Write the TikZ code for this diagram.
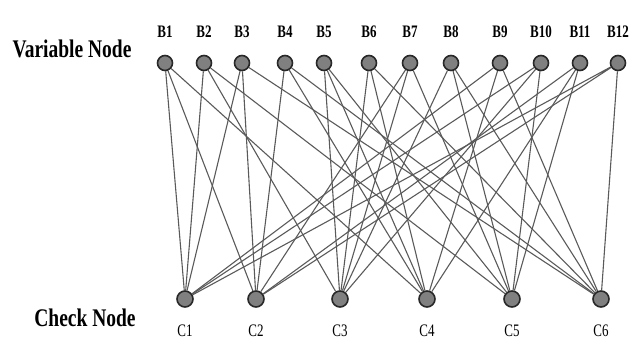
\documentclass[tikz,border=0pt]{standalone}
\usepackage{fontspec}
\setmainfont{Liberation Serif}
\usepackage{xcolor}
\usetikzlibrary{positioning,backgrounds}

\definecolor{nodegray}{RGB}{128,128,128}
\definecolor{rimgray}{RGB}{40,40,40}
\definecolor{edgegray}{RGB}{90,90,90}

\begin{document}
\begin{tikzpicture}[
    x=1pt, y=-1pt,
    vnode/.style={circle, draw=rimgray, fill=nodegray, line width=1.6pt, minimum size=15pt, inner sep=0pt},
    cnode/.style={circle, draw=rimgray, fill=nodegray, line width=1.6pt, minimum size=16pt, inner sep=0pt},
    vlabel/.style={font=\fontsize{13}{13}\selectfont\bfseries, inner sep=0pt},
    clabel/.style={font=\fontsize{13}{13}\selectfont, inner sep=0pt},
    title/.style={font=\fontsize{19.5}{20}\selectfont\bfseries, inner sep=0pt},
    edge/.style={draw=edgegray, line width=1.1pt}
]
\useasboundingbox (0,0) rectangle (638,342);

% Row titles
\node[title] (vtitle) at (72,49) {\scalebox{1}[1.3]{Variable Node}};
\node[title] (ctitle) at (85,318) {\scalebox{1}[1.3]{Check Node}};

% Variable nodes
\node[vnode] (b1) at (165,63) {};
\node[vnode] (b2) at (204,63) {};
\node[vnode] (b3) at (242,63) {};
\node[vnode] (b4) at (285,63) {};
\node[vnode] (b5) at (324,63) {};
\node[vnode] (b6) at (369,63) {};
\node[vnode] (b7) at (410,63) {};
\node[vnode] (b8) at (451,63) {};
\node[vnode] (b9) at (500,63) {};
\node[vnode] (b10) at (541,63) {};
\node[vnode] (b11) at (580,63) {};
\node[vnode] (b12) at (618,63) {};

% Check nodes
\node[cnode] (c1) at (185,299) {};
\node[cnode] (c2) at (256,299) {};
\node[cnode] (c3) at (340,299) {};
\node[cnode] (c4) at (427,299) {};
\node[cnode] (c5) at (512,299) {};
\node[cnode] (c6) at (601,299) {};

% Labels
\node[vlabel, above=17pt of b1] (lb1) {\scalebox{1}[1.35]{B1}};
\node[vlabel, above=17pt of b2] (lb2) {\scalebox{1}[1.35]{B2}};
\node[vlabel, above=17pt of b3] (lb3) {\scalebox{1}[1.35]{B3}};
\node[vlabel, above=17pt of b4] (lb4) {\scalebox{1}[1.35]{B4}};
\node[vlabel, above=17pt of b5] (lb5) {\scalebox{1}[1.35]{B5}};
\node[vlabel, above=17pt of b6] (lb6) {\scalebox{1}[1.35]{B6}};
\node[vlabel, above=17pt of b7] (lb7) {\scalebox{1}[1.35]{B7}};
\node[vlabel, above=17pt of b8] (lb8) {\scalebox{1}[1.35]{B8}};
\node[vlabel, above=17pt of b9] (lb9) {\scalebox{1}[1.35]{B9}};
\node[vlabel, above=17pt of b10] (lb10) {\scalebox{1}[1.35]{B10}};
\node[vlabel, above=17pt of b11] (lb11) {\scalebox{1}[1.35]{B11}};
\node[vlabel, above=17pt of b12] (lb12) {\scalebox{1}[1.35]{B12}};

\node[clabel, below=17pt of c1] (lc1) {\scalebox{1}[1.35]{C1}};
\node[clabel, below=17pt of c2] (lc2) {\scalebox{1}[1.35]{C2}};
\node[clabel, below=17pt of c3] (lc3) {\scalebox{1}[1.35]{C3}};
\node[clabel, below=17pt of c4] (lc4) {\scalebox{1}[1.35]{C4}};
\node[clabel, below=17pt of c5] (lc5) {\scalebox{1}[1.35]{C5}};
\node[clabel, below=17pt of c6] (lc6) {\scalebox{1}[1.35]{C6}};

% Edges
\begin{scope}[on background layer]
\draw[edge] (b1) -- (c1) (b1) -- (c2) (b1) -- (c4);
\draw[edge] (b2) -- (c1) (b2) -- (c3) (b2) -- (c5);
\draw[edge] (b3) -- (c1) (b3) -- (c2) (b3) -- (c6);
\draw[edge] (b4) -- (c2) (b4) -- (c4) (b4) -- (c6);
\draw[edge] (b5) -- (c3) (b5) -- (c4) (b5) -- (c5);
\draw[edge] (b6) -- (c3) (b6) -- (c4) (b6) -- (c6);
\draw[edge] (b7) -- (c2) (b7) -- (c3) (b7) -- (c5);
\draw[edge] (b8) -- (c3) (b8) -- (c5) (b8) -- (c6);
\draw[edge] (b9) -- (c1) (b9) -- (c4) (b9) -- (c6);
\draw[edge] (b10) -- (c1) (b10) -- (c3) (b10) -- (c5);
\draw[edge] (b11) -- (c2) (b11) -- (c4) (b11) -- (c5);
\draw[edge] (b12) -- (c1) (b12) -- (c2) (b12) -- (c6);
\end{scope}

\end{tikzpicture}
\end{document}
